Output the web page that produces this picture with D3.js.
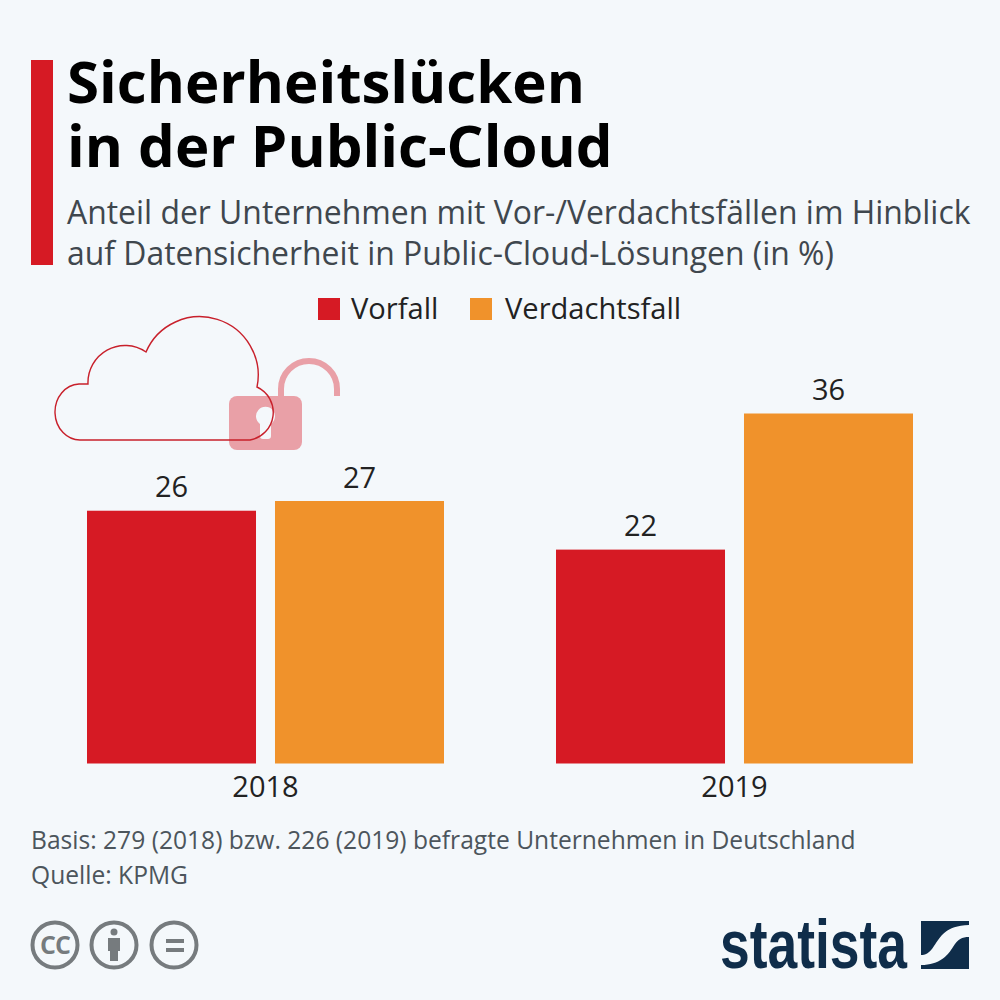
<!DOCTYPE html>
<html>
<head>
<meta charset="utf-8">
<script src="https://cdn.jsdelivr.net/npm/d3@7"></script>
<style>
    html, body { margin: 0; padding: 0; background: #f4f8fb; }
    svg { display: block; }
    text { font-family: "Open Sans", sans-serif; }
</style>
</head>
<body>
<div id="chart"></div>
<script>
// data
const years = ["2018", "2019"];
const seriesNames = ["Vorfall", "Verdachtsfall"];
const vorfall = [26, 22];
const verdachtsfall = [27, 36];
const seriesColours = ["#d61a24", "#f0922b"];

const titleLines = ["Sicherheitslücken", "in der Public-Cloud"];
const subtitleLines = [
    "Anteil der Unternehmen mit Vor-/Verdachtsfällen im Hinblick",
    "auf Datensicherheit in Public-Cloud-Lösungen (in %)"
];
const footLines = [
    "Basis: 279 (2018) bzw. 226 (2019) befragte Unternehmen in Deutschland",
    "Quelle: KPMG"
];

const svg = d3.select("#chart").append("svg")
    .attr("width", 1000)
    .attr("height", 1000);

svg.append("rect").attr("width", 1000).attr("height", 1000).attr("fill", "#f4f8fb");

// header
svg.append("rect").attr("x", 31).attr("y", 60).attr("width", 22).attr("height", 205).attr("fill", "#d61a24");

// both title lines sit in one text element, the line gap is tighter than the font's own
svg.append("text")
    .attr("class", "title")
    .attr("font-size", 58.2)
    .attr("font-weight", 700)
    .attr("fill", "#000")
    .selectAll("tspan").data(titleLines).enter().append("tspan")
    .attr("x", 67)
    .attr("y", (d, i) => 103 + i * 64)
    .text(d => d);

svg.selectAll(".subtitle").data(subtitleLines).enter().append("text")
    .attr("class", "subtitle")
    .attr("x", 67)
    .attr("y", (d, i) => 224 + i * 41)
    .attr("font-size", 31.9)
    .attr("fill", "#3f474e")
    .text(d => d);

// legend
const legendX = [318, 470];
const legend = svg.selectAll(".legend").data(seriesNames).enter().append("g")
    .attr("class", "legend")
    .attr("transform", (d, i) => "translate(" + legendX[i] + ",298)");

legend.append("rect")
    .attr("width", 22)
    .attr("height", 22)
    .attr("fill", (d, i) => seriesColours[i]);

legend.append("text")
    .attr("x", (d, i) => i ? 35 : 33)
    .attr("y", 21)
    .attr("font-size", 29.1)
    .attr("fill", "#222")
    .text(d => d);

// scales
const x0 = d3.scaleBand().domain(years).range([87, 913]).paddingInner(112 / 469);
const x1 = d3.scaleBand().domain(seriesNames).range([0, x0.bandwidth()]).paddingInner(0.101);
const y = d3.scaleLinear().domain([0, 36]).range([763.5, 413.5]);

const rows = years.map((year, i) => ({ year: year, values: [vorfall[i], verdachtsfall[i]] }));

const group = svg.selectAll(".year").data(rows).enter().append("g")
    .attr("class", "year")
    .attr("transform", d => "translate(" + x0(d.year) + ",0)");

group.selectAll("rect")
    .data(d => d.values.map((v, i) => ({ name: seriesNames[i], value: v, colour: seriesColours[i] })))
    .enter().append("rect")
    .attr("x", d => x1(d.name))
    .attr("y", d => y(d.value))
    .attr("width", x1.bandwidth())
    .attr("height", d => y(0) - y(d.value))
    .attr("fill", d => d.colour);

group.selectAll(".value")
    .data(d => d.values.map((v, i) => ({ name: seriesNames[i], value: v })))
    .enter().append("text")
    .attr("class", "value")
    .attr("x", d => x1(d.name) + x1.bandwidth() / 2)
    .attr("y", d => y(d.value) - 13.5)
    .attr("text-anchor", "middle")
    .attr("font-size", 29)
    .attr("fill", "#222")
    .text(d => d.value);

svg.selectAll(".yearLabel").data(years).enter().append("text")
    .attr("class", "yearLabel")
    .attr("x", d => x0(d) + x0.bandwidth() / 2)
    .attr("y", 797)
    .attr("text-anchor", "middle")
    .attr("font-size", 29)
    .attr("fill", "#222")
    .text(d => d);

// cloud and open lock icon
const icon = svg.append("g").attr("class", "icon");
const lockColour = "#e9a0a7";

icon.append("path")
    .attr("d", "M281 397 V389 A28 28 0 0 1 337 389 V396")
    .attr("fill", "none")
    .attr("stroke", lockColour)
    .attr("stroke-width", 6);
icon.append("rect")
    .attr("x", 229).attr("y", 396).attr("width", 73).attr("height", 54).attr("rx", 8)
    .attr("fill", lockColour);
icon.append("path")
    .attr("d", "M260 424 A9.5 9.5 0 1 1 271 424 V436 A3 3 0 0 1 268 439 H263 A3 3 0 0 1 260 436 Z")
    .attr("fill", "#f4f8fb");
icon.append("path")
    .attr("d", "M81 440 A25 28 0 0 1 79 384 H88 A37 37 0 0 1 146 352 A58.5 58.5 0 0 1 257 387 A28 28 0 0 1 250 440 Z")
    .attr("fill", "none")
    .attr("stroke", "#c8202b")
    .attr("stroke-width", 1.4);

// footer
svg.selectAll(".foot").data(footLines).enter().append("text")
    .attr("class", "foot")
    .attr("x", 31)
    .attr("y", (d, i) => 849 + i * 35)
    .attr("font-size", 24.6)
    .attr("fill", "#4c555c")
    .text(d => d);

// licence badges
const grey = "#767b7e";
const badgeX = [55, 114, 174];
svg.selectAll(".badge").data(badgeX).enter().append("circle")
    .attr("class", "badge")
    .attr("cx", d => d)
    .attr("cy", 945)
    .attr("r", 22.5)
    .attr("fill", "none")
    .attr("stroke", grey)
    .attr("stroke-width", 4);

svg.append("text")
    .attr("x", 55).attr("y", 954)
    .attr("text-anchor", "middle")
    .attr("font-size", 25)
    .attr("font-weight", 700)
    .attr("letter-spacing", -1)
    .attr("fill", grey)
    .text("CC");

svg.append("circle").attr("cx", 114).attr("cy", 932).attr("r", 3.5).attr("fill", grey);
svg.append("path")
    .attr("d", "M108 938 H120 V951 H118 V961 H110 V951 H108 Z")
    .attr("fill", grey);
svg.append("rect").attr("x", 166).attr("y", 939).attr("width", 18).attr("height", 4).attr("fill", grey);
svg.append("rect").attr("x", 166).attr("y", 948).attr("width", 18).attr("height", 4).attr("fill", grey);

// statista logo
const navy = "#0f2d4a";
svg.append("text")
    .attr("x", 720)
    .attr("y", 968)
    .attr("font-size", 68)
    .attr("font-weight", 700)
    .attr("textLength", 187)
    .attr("lengthAdjust", "spacingAndGlyphs")
    .attr("fill", navy)
    .style("font-family", "'Liberation Sans Narrow', 'Liberation Sans', sans-serif")
    .text("statista");

svg.append("path")
    .attr("d", "M921 921 H969 V925 C945 926 941 936 934 946 C929 954 925 955 921 955 Z")
    .attr("fill", navy);
svg.append("path")
    .attr("d", "M969 937 V969 H921 V965 C940 965 948 955 953 947 C958 939 962 937 969 937 Z")
    .attr("fill", navy);
</script>
</body>
</html>
